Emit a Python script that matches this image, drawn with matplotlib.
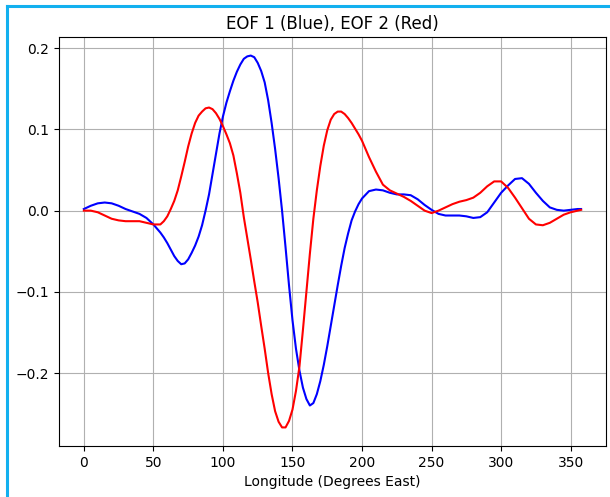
import matplotlib
matplotlib.use("Agg")
import matplotlib.pyplot as plt
from matplotlib.lines import Line2D

# longitude (degrees east): 5 deg steps at the flat ends, 2.5 deg in the middle
lon = [0, 5, 10, 15, 20, 25, 30, 35, 40, 45, 50,
       55, 57.5, 60, 62.5, 65, 67.5, 70, 72.5, 75, 77.5,
       80, 82.5, 85, 87.5, 90, 92.5, 95, 97.5, 100, 102.5,
       105, 107.5, 110, 112.5, 115, 117.5, 120, 122.5, 125, 127.5,
       130, 132.5, 135, 137.5, 140, 142.5, 145, 147.5, 150, 152.5,
       155, 157.5, 160, 162.5, 165, 167.5, 170, 172.5, 175, 177.5,
       180, 182.5, 185, 187.5, 190, 192.5, 195, 197.5, 200,
       205, 210, 215, 220, 225, 230, 235, 240, 245, 250,
       255, 260, 265, 270, 275, 280, 285, 290, 295, 300,
       305, 310, 315, 320, 325, 330, 335, 340, 345, 350,
       355, 357.5]

# EOF 1 (blue)
eof1 = [0.002, 0.006, 0.009, 0.010, 0.009, 0.006, 0.002, -0.001, -0.004, -0.009, -0.017,
        -0.027, -0.033, -0.040, -0.048, -0.056, -0.062, -0.066, -0.065, -0.060, -0.052,
        -0.043, -0.032, -0.018, 0.000, 0.020, 0.045, 0.070, 0.095, 0.116, 0.133,
        0.147, 0.160, 0.171, 0.180, 0.187, 0.190, 0.191, 0.189, 0.182, 0.172,
        0.158, 0.136, 0.108, 0.076, 0.040, 0.000, -0.045, -0.092, -0.135, -0.170,
        -0.197, -0.218, -0.232, -0.240, -0.237, -0.226, -0.210, -0.190, -0.167, -0.142,
        -0.117, -0.092, -0.068, -0.046, -0.028, -0.012, -0.001, 0.008, 0.015,
        0.024, 0.026, 0.025, 0.022, 0.020, 0.020, 0.019, 0.014, 0.007, 0.001,
        -0.004, -0.006, -0.006, -0.006, -0.007, -0.009, -0.008, -0.002, 0.010, 0.022,
        0.031, 0.039, 0.040, 0.033, 0.022, 0.012, 0.004, 0.001, 0.000, 0.001,
        0.002, 0.002]

# EOF 2 (red)
eof2 = [0.000, 0.000, -0.002, -0.006, -0.010, -0.012, -0.013, -0.013, -0.013, -0.015, -0.017,
        -0.017, -0.013, -0.007, 0.002, 0.012, 0.025, 0.042, 0.060, 0.079, 0.095,
        0.108, 0.117, 0.122, 0.126, 0.127, 0.125, 0.120, 0.113, 0.104, 0.094,
        0.083, 0.068, 0.046, 0.022, -0.008, -0.034, -0.060, -0.087, -0.113, -0.142,
        -0.170, -0.200, -0.226, -0.247, -0.260, -0.267, -0.267, -0.259, -0.245, -0.222,
        -0.192, -0.147, -0.100, -0.053, -0.010, 0.025, 0.055, 0.080, 0.099, 0.112,
        0.119, 0.122, 0.122, 0.119, 0.114, 0.108, 0.101, 0.094, 0.086,
        0.066, 0.048, 0.032, 0.025, 0.021, 0.017, 0.012, 0.006, 0.000, -0.003,
        0.000, 0.004, 0.008, 0.011, 0.013, 0.016, 0.022, 0.030, 0.036, 0.036,
        0.028, 0.016, 0.003, -0.010, -0.017, -0.018, -0.015, -0.010, -0.005, -0.002,
        0.000, 0.001]

fig = plt.figure(figsize=(6.1, 4.97), dpi=100)
ax = fig.add_axes([0.0967, 0.1026, 0.8967, 0.823])

ax.plot(lon, eof1, color="b")
ax.plot(lon, eof2, color="r")
ax.set_title("EOF 1 (Blue), EOF 2 (Red)")
ax.set_xlabel("Longitude (Degrees East)")
ax.grid(True)

# cyan frame visible along the left and top edges
x0, y0 = 7 / 610, 1 - 6 / 497
fig.add_artist(Line2D([x0, x0], [0, y0], transform=fig.transFigure, color="#12b0ef", lw=2.2))
fig.add_artist(Line2D([x0, 1], [y0, y0], transform=fig.transFigure, color="#12b0ef", lw=2.2))

fig.savefig("out.png", dpi=100)
